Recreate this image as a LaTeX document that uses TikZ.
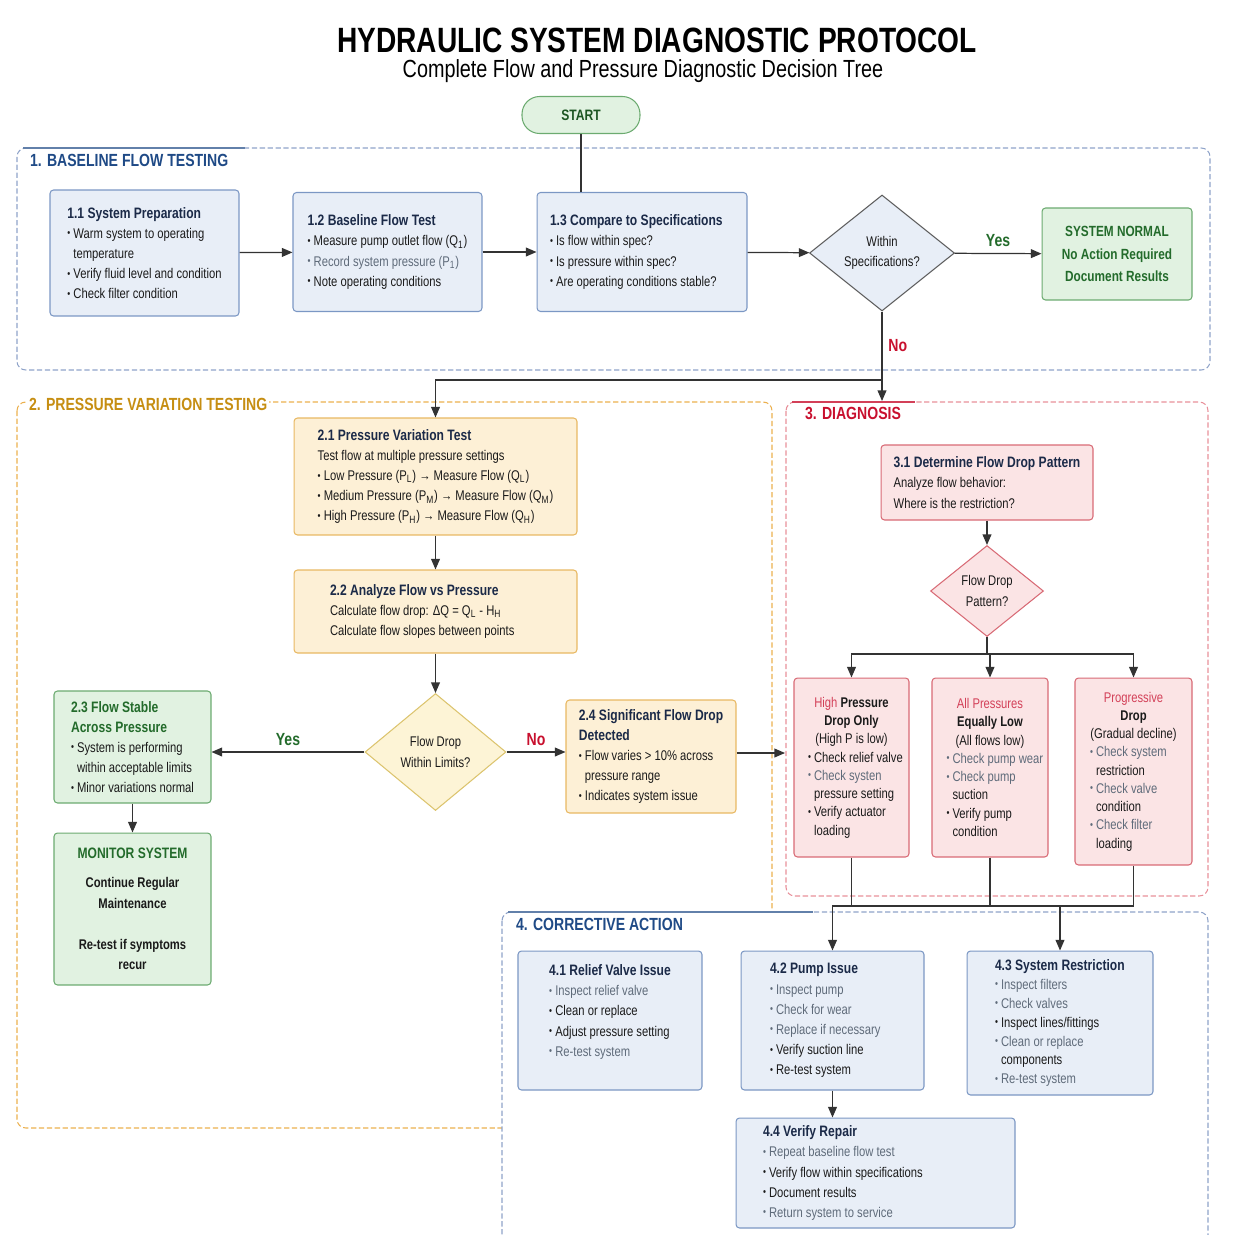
\documentclass[tikz,border=0pt]{standalone}
\usepackage{fontspec}
\setmainfont{Liberation Sans}[FakeStretch=0.8]
\usepackage{xcolor}
\usepackage{tikz}
\usetikzlibrary{shapes,arrows.meta,positioning,calc}

\definecolor{bluefill}{HTML}{E8EEF7}
\definecolor{blueline}{HTML}{7B97C4}
\definecolor{bluetitle}{HTML}{1F4A86}
\definecolor{bluedash}{HTML}{8FA3C9}
\definecolor{orfill}{HTML}{FDF0D6}
\definecolor{orline}{HTML}{E8B862}
\definecolor{ortitle}{HTML}{C68E12}
\definecolor{ordash}{HTML}{EBB04E}
\definecolor{grfill}{HTML}{E1F2E1}
\definecolor{grline}{HTML}{6CAB70}
\definecolor{grtext}{HTML}{236B2B}
\definecolor{rdfill}{HTML}{FBE4E5}
\definecolor{rdline}{HTML}{D86A75}
\definecolor{rdtext}{HTML}{C8102E}
\definecolor{rddash}{HTML}{E8909A}
\definecolor{ylfill}{HTML}{FDF4D6}
\definecolor{ylline}{HTML}{DCC46E}
\definecolor{navy}{HTML}{1B2A48}
\definecolor{txt}{HTML}{1A1A1A}
\definecolor{faint}{HTML}{5F6B7A}
\definecolor{wire}{HTML}{333333}

\newcommand{\bul}{\raisebox{0.2ex}{\scalebox{0.75}{\textbullet}}\ }
\newcommand{\ind}{\hphantom{\bul}}
\newcommand{\hd}[2][navy]{{\fontsize{8.6}{11.5}\selectfont\bfseries\color{#1}#2}}
\newcommand{\gr}[1]{\textcolor{faint}{#1}}
\newcommand{\lb}[1]{\makebox[1.74cm][l]{#1}}
\newcommand{\wide}[2]{\makebox[#1][l]{#2}}

\begin{document}
\begin{tikzpicture}[
    x=0.02cm, y=-0.02cm,
    box/.style={rectangle, draw, rounded corners=2pt, line width=0.6pt, align=left, inner sep=2pt, text=txt, font=\fontsize{8}{11.5}\selectfont},
    bluebox/.style={box, fill=bluefill, draw=blueline},
    orbox/.style={box, fill=orfill, draw=orline},
    grbox/.style={box, fill=grfill, draw=grline},
    rdbox/.style={box, fill=rdfill, draw=rdline, align=center, font=\fontsize{8}{10.4}\selectfont},
    startbox/.style={rectangle, rounded corners=10pt, draw=grline, fill=grfill, line width=0.6pt, minimum width=2.36cm, minimum height=0.74cm, text=grtext!80!black, font=\fontsize{8.6}{11}\selectfont\bfseries},
    decision/.style={diamond, draw, aspect=1.25, inner sep=0pt, line width=0.6pt, align=center, text=txt, font=\fontsize{8}{11.5}\selectfont},
    secframe/.style={rounded corners=5pt, line width=0.6pt, dash pattern=on 3pt off 1.5pt},
    sectitle/.style={anchor=west, inner sep=1pt, font=\fontsize{10}{12}\selectfont\bfseries},
    arrow/.style={->, >={Triangle[length=6pt,width=5pt]}, draw=wire, line width=0.7pt},
    wireline/.style={draw=wire, line width=0.7pt},
    yeslbl/.style={font=\fontsize{10}{12}\selectfont\bfseries, text=grtext},
    nolbl/.style={font=\fontsize{10}{12}\selectfont\bfseries, text=rdtext}
]
\useasboundingbox (0,0) rectangle (1254,1234);
\clip (0,0) rectangle (1254,1234);

% Title
\node[font=\fontsize{20}{23}\selectfont\bfseries] (title) at (657,40) {HYDRAULIC SYSTEM DIAGNOSTIC PROTOCOL};
\node[font=\fontsize{14.1}{16}\selectfont] (subtitle) at (643,71) {Complete Flow and Pressure Diagnostic Decision Tree};

% Section frames
\draw[secframe, draw=bluedash] (17,148) rectangle (1210,370);
\draw[bluetitle!70, line width=0.9pt] (23,148) -- (245,148);
\node[sectitle, text=bluetitle] (sec1) at (28,160) {1. BASELINE FLOW TESTING};
\draw[secframe, draw=ordash] (17,402) rectangle (772,1128);
\node[sectitle, text=ortitle, fill=white] (sec2) at (27,404) {2. PRESSURE VARIATION TESTING};
\draw[secframe, draw=rddash] (786,402) rectangle (1208,896);
\draw[rdtext!80, line width=0.9pt] (792,402) -- (915,402);
\node[sectitle, text=rdtext] (sec3) at (803,413) {3. DIAGNOSIS};
\draw[secframe, draw=bluedash, fill=white] (502,912) rectangle (1208,1280);
\draw[bluetitle!70, line width=0.9pt] (508,912) -- (813,912);
\node[sectitle, text=bluetitle] (sec4) at (514,924) {4. CORRECTIVE ACTION};
\coordinate (diagtop) at (882,401);
\coordinate (diagwest) at (785,753);

% Start
\node[startbox] (start) at (581,115) {START};

% 1. Baseline flow testing
\node[bluebox, minimum width=3.78cm, minimum height=2.52cm] (prep) at (144.5,253) {\hd{1.1 System Preparation}\\ \bul Warm system to operating\\ \ind temperature\\ \bul Verify fluid level and condition\\ \bul Check filter condition};
\node[bluebox, minimum width=3.78cm, minimum height=2.38cm] (base) at (387.5,252) {\hd{1.2 Baseline Flow Test}\\ \bul Measure pump outlet flow (Q\textsubscript{1})\\ \gr{\bul Record system pressure (P\textsubscript{1})}\\ \bul Note operating conditions};
\node[bluebox, minimum width=4.2cm, minimum height=2.38cm] (comp) at (642,252) {\hd{\wide{3.68cm}{1.3 Compare to Specifications}}\\ \bul Is flow within spec?\\ \bul Is pressure within spec?\\ \bul Are operating conditions stable?};
\node[decision, fill=bluefill, draw=wire!80, minimum width=2.9cm, minimum height=2.32cm] (spec) at (882,253) {Within\\Specifications?};
\node[grbox, align=center, minimum width=3cm, minimum height=1.84cm, text=grtext, font=\fontsize{8.4}{13}\selectfont\bfseries] (normal) at (1117,254) {SYSTEM NORMAL\\ No Action Required\\ Document Results};

% 2. Pressure variation testing
\node[orbox, minimum width=5.66cm, minimum height=2.34cm] (vary) at (435.5,476.5) {\hd{2.1 Pressure Variation Test}\\ Test flow at multiple pressure settings\\ \bul Low Pressure (P\textsubscript{L}) → Measure Flow (Q\textsubscript{L})\\ \bul Medium Pressure (P\textsubscript{M}) → Measure Flow (Q\textsubscript{M})\\ \bul High Pressure (P\textsubscript{H}) → Measure Flow (Q\textsubscript{H})};
\node[orbox, minimum width=5.66cm, minimum height=1.66cm] (analyze) at (435.5,611.5) {\hd{\wide{4.22cm}{2.2 Analyze Flow vs Pressure}}\\ Calculate flow drop: ΔQ = Q\textsubscript{L} - H\textsubscript{H}\\ Calculate flow slopes between points};
\node[decision, fill=ylfill, draw=ylline, minimum width=2.82cm, minimum height=2.34cm] (limits) at (435.5,752) {Flow Drop\\Within Limits?};
\node[grbox, minimum width=3.14cm, minimum height=2.24cm] (stable) at (132.5,747) {\hd[grtext]{2.3 Flow Stable}\\ \hd[grtext]{Across Pressure}\\ \bul System is performing\\ \ind within acceptable limits\\ \bul Minor variations normal};
\node[orbox, minimum width=3.4cm, minimum height=2.26cm] (drop) at (651,756.5) {\hd{2.4 Significant Flow Drop}\\ \hd{Detected}\\ \bul Flow varies > 10\% across\\ \ind pressure range\\ \bul Indicates system issue};
\node[grbox, align=center, minimum width=3.14cm, minimum height=3.04cm] (monitor) at (132.5,909) {\hd[grtext]{MONITOR SYSTEM}\\[5pt] \textbf{Continue Regular}\\ \textbf{Maintenance}\\[12pt] \textbf{Re-test if symptoms}\\ \textbf{recur}};

% 3. Diagnosis
\node[rdbox, align=left, minimum width=4.24cm, minimum height=1.5cm, font=\fontsize{8}{11.5}\selectfont] (pattern) at (987,482.5) {\hd{3.1 Determine Flow Drop Pattern}\\ Analyze flow behavior:\\ Where is the restriction?};
\node[decision, fill=rdfill, draw=rdline, minimum width=2.26cm, minimum height=1.82cm] (which) at (987,591) {Flow Drop\\Pattern?};
\node[rdbox, minimum width=2.3cm, minimum height=3.58cm] (high) at (851.5,767.5) {\textcolor{rdtext!80}{High} \textbf{Pressure}\\ \textbf{Drop Only}\\ (High P is low)\\ \lb{\bul Check relief valve}\\ \lb{\gr{\bul Check systen}}\\ \lb{\ind pressure setting}\\ \lb{\bul Verify actuator}\\ \lb{\ind loading}};
\node[rdbox, minimum width=2.32cm, minimum height=3.58cm] (all) at (990,767.5) {\textcolor{rdtext!80}{All Pressures}\\ \textbf{Equally Low}\\ (All flows low)\\ \lb{\gr{\bul Check pump wear}}\\ \lb{\gr{\bul Check pump}}\\ \lb{\ind suction}\\ \lb{\bul Verify pump}\\ \lb{\ind condition}};
\node[rdbox, minimum width=2.34cm, minimum height=3.74cm] (prog) at (1133.5,771.5) {\textcolor{rdtext!80}{Progressive}\\ \textbf{Drop}\\ (Gradual decline)\\ \lb{\gr{\bul Check system}}\\ \lb{\ind restriction}\\ \lb{\gr{\bul Check valve}}\\ \lb{\ind condition}\\ \lb{\gr{\bul Check filter}}\\ \lb{\ind loading}};

% 4. Corrective action
\node[bluebox, minimum width=3.68cm, minimum height=2.78cm] (relief) at (610,1020.5) {\hd{4.1 Relief Valve Issue}\\ \gr{\bul Inspect relief valve}\\ \bul Clean or replace\\ \bul Adjust pressure setting\\ \gr{\bul Re-test system}\\ \mbox{}};
\node[bluebox, minimum width=3.66cm, minimum height=2.78cm] (pump) at (832.5,1020.5) {\hd{\wide{2.5cm}{4.2 Pump Issue}}\\ \gr{\bul Inspect pump}\\ \gr{\bul Check for wear}\\ \gr{\bul Replace if necessary}\\ \bul Verify suction line\\ \bul Re-test system};
\node[bluebox, minimum width=3.72cm, minimum height=2.88cm, font=\fontsize{8}{10.8}\selectfont] (restrict) at (1060,1023) {\hd{\wide{2.6cm}{4.3 System Restriction}}\\ \gr{\bul Inspect filters}\\ \gr{\bul Check valves}\\ \bul Inspect lines/fittings\\ \gr{\bul Clean or replace}\\ \ind components\\ \gr{\bul Re-test system}};
\node[bluebox, minimum width=5.58cm, minimum height=2.2cm] (verify) at (875.5,1173) {\hd{\wide{4.5cm}{4.4 Verify Repair}}\\ \gr{\bul Repeat baseline flow test}\\ \bul Verify flow within specifications\\ \bul Document results\\ \gr{\bul Return system to service}};

% Arrows
\draw[wireline] (start) -- (start |- comp.north);
\draw[arrow] (prep) -- (base);
\draw[arrow] (base) -- (comp);
\draw[arrow] (comp) -- (spec);
\draw[arrow] (spec) -- node[yeslbl, above] {Yes} (normal);
\coordinate (split) at (882,380);
\draw[wireline] (spec) -- node[nolbl, right] {No} (split);
\draw[arrow] (split) -| (vary);
\draw[arrow] (split) -- (diagtop);
\draw[arrow] (vary) -- (analyze);
\draw[arrow] (analyze) -- (limits);
\draw[arrow] (limits) -- node[yeslbl, above] {Yes} (limits -| stable.east);
\draw[arrow] (limits.east) -- node[nolbl, above] {No} (limits.east -| drop.west);
\draw[arrow] (drop.east |- diagwest) -- (diagwest);
\draw[arrow] (stable) -- (monitor);
\draw[arrow] (pattern) -- (which);
\coordinate (fork) at (987,654);
\draw[wireline] (which) -- (fork);
\draw[arrow] (fork) -| (high);
\draw[arrow] (fork) -| (all);
\draw[arrow] (fork) -| (prog);
\coordinate (merge) at (851,906);
\draw[wireline] (high) -- (high |- merge);
\draw[wireline] (all) -- (all |- merge);
\draw[wireline] (prog) -- (prog |- merge);
\draw[wireline] (high |- merge) -- (prog |- merge);
\draw[arrow] (high |- merge) -| (pump);
\draw[arrow] (prog |- merge) -| (restrict);
\draw[arrow] (pump) -- (pump |- verify.north);

\end{tikzpicture}
\end{document}
